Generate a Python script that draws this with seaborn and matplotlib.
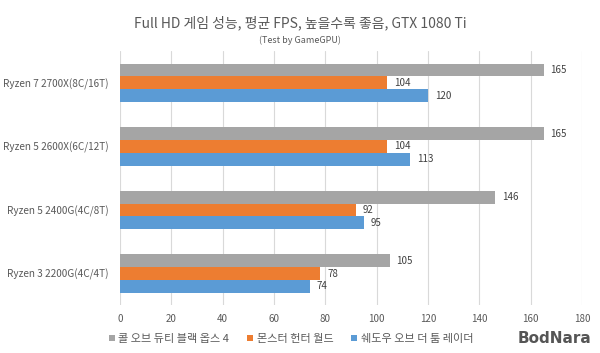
import matplotlib
matplotlib.use("Agg")
import matplotlib.pyplot as plt
import seaborn as sns
import pandas as pd
from matplotlib.patches import Patch

categories = ["Ryzen 7 2700X(8C/16T)", "Ryzen 5 2600X(6C/12T)", "Ryzen 5 2400G(4C/8T)", "Ryzen 3 2200G(4C/4T)"]
series = ["콜 오브 듀티 블랙 옵스 4", "몬스터 헌터 월드", "쉐도우 오브 더 툼 레이더"]
cod = [165, 165, 146, 105]
mhw = [104, 104, 92, 78]
sottr = [120, 113, 95, 74]
colors = ["#A5A5A5", "#ED7D31", "#5B9BD5"]
xticks = [0, 20, 40, 60, 80, 100, 120, 140, 160, 180]

rows = []
for s, vals in zip(series, [cod, mhw, sottr]):
    for c, v in zip(categories, vals):
        rows.append({"cpu": c, "series": s, "fps": v})
df = pd.DataFrame(rows)

sns.set_theme(style="white")
plt.rcParams["font.family"] = ["Noto Sans CJK KR", "DejaVu Sans"]
txt = "#595959"

fig = plt.figure(figsize=(6, 3.53), dpi=100)
ax = fig.add_axes([0.2, 0.135, 0.77, 0.72])
sns.barplot(data=df, y="cpu", x="fps", hue="series", order=categories, hue_order=series,
            palette=colors, orient="h", width=0.61, ax=ax, legend=False, saturation=1,
            edgecolor="none", linewidth=0)

for cont in ax.containers:
    ax.bar_label(cont, padding=5, fontsize=7, color="#404040")

ax.set_xlim(0, 180)
ax.set_xticks(xticks)
ax.set_xticklabels([str(t) for t in xticks])
ax.set_xlabel("")
ax.set_ylabel("")
ax.tick_params(axis="both", length=0, labelsize=7, colors=txt)
ax.tick_params(axis="x", pad=6)
ax.tick_params(axis="y", pad=8.5, labelsize=7.2)
ax.grid(axis="x", color="#D9D9D9", linewidth=0.8)
ax.set_axisbelow(True)
for sp in ax.spines.values():
    sp.set_visible(False)

fig.text(0.5, 0.935, "Full HD 게임 성능, 평균 FPS, 높을수록 좋음, GTX 1080 Ti", ha="center", va="center",
         fontsize=10, color=txt)
fig.text(0.5, 0.885, "(Test by GameGPU)", ha="center", va="center", fontsize=6.5, color=txt)

handles = [Patch(facecolor=c, edgecolor="none") for c in colors]
fig.legend(handles, series, loc="center left", bbox_to_anchor=(0.165, 0.04), ncol=3, frameon=False,
           fontsize=8, labelcolor=txt, handlelength=0.55, handleheight=0.55, handletextpad=0.3,
           columnspacing=1.6)

fig.text(0.985, 0.02, "BodNara", ha="right", va="bottom", fontsize=11, fontweight="bold", color="#555555",
         family=["DejaVu Sans"])

fig.savefig("out.png", dpi=100, facecolor="white")
